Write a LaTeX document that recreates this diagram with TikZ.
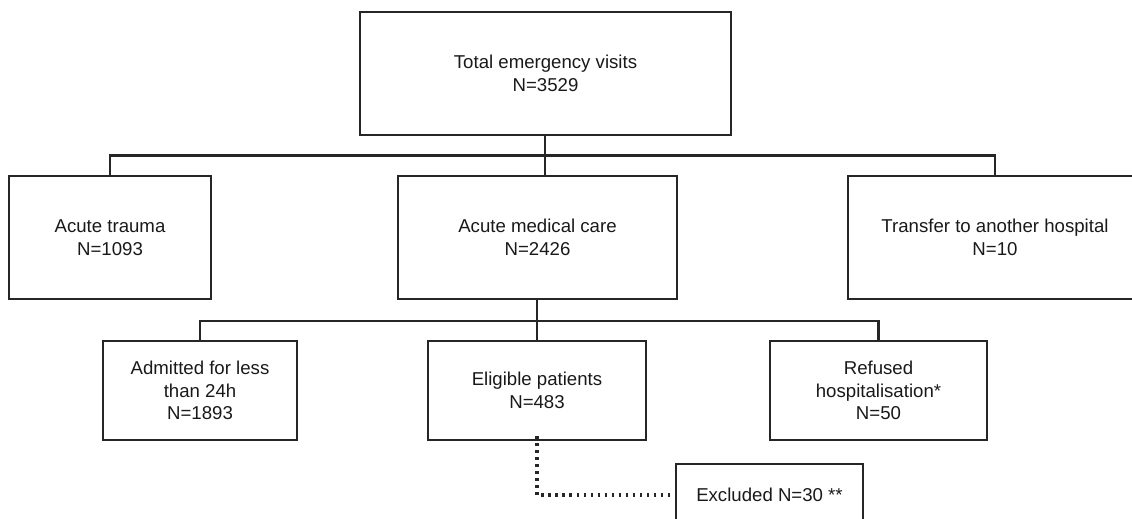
\documentclass[tikz,border=0pt]{standalone}
\usepackage{fontspec}
\setmainfont{Liberation Sans}
\begin{document}
\begin{tikzpicture}[x=0.02cm,y=-0.02cm,
  box/.style={draw=black!85, line width=1.6pt, align=center, inner sep=0pt,
    font=\fontsize{10.6}{13}\selectfont, text=black!90},
  conn/.style={draw=black!85, line width=1.6pt},
  dotconn/.style={draw=black!85, line width=1.8pt, dash pattern=on 1.4pt off 2.6pt}]
\path[use as bounding box, clip] (0,0) rectangle (1132,519);
\node[box, minimum width=7.42cm, minimum height=2.46cm] (total) at (545.5,73.5) {Total emergency visits\\N=3529};
\node[box, minimum width=4.04cm, minimum height=2.46cm] (trauma) at (110,237.5) {Acute trauma\\N=1093};
\node[box, minimum width=5.58cm, minimum height=2.46cm] (medical) at (537.5,237.5) {Acute medical care\\N=2426};
\node[box, minimum width=5.88cm, minimum height=2.46cm] (transfer) at (995,237.5) {Transfer to another hospital\\N=10};
\node[box, minimum width=3.88cm, minimum height=1.98cm] (admitted) at (200,390.5) {Admitted for less\\than 24h\\N=1893};
\node[box, minimum width=4.36cm, minimum height=1.98cm] (eligible) at (537,390.5) {Eligible patients\\N=483};
\node[box, minimum width=4.34cm, minimum height=1.98cm] (refused) at (878.5,390.5) {Refused\\hospitalisation*\\N=50};
\node[box, minimum width=3.74cm, minimum height=1.24cm] (excluded) at (769.5,495) {Excluded N=30 **};
\coordinate (h1) at (545,155.5);
\coordinate (h2) at (537,321);
\draw[conn] (total.south -| h1) -- (medical.north -| h1);
\draw[conn] (trauma.north) |- (h1) -| (transfer.north);
\draw[conn] (medical.south -| h2) -- (eligible.north);
\draw[conn] (admitted.north) |- (h2) -| (refused.north);
\draw[dotconn] ([yshift=3pt]eligible.south) |- (excluded.west);
\end{tikzpicture}
\end{document}
